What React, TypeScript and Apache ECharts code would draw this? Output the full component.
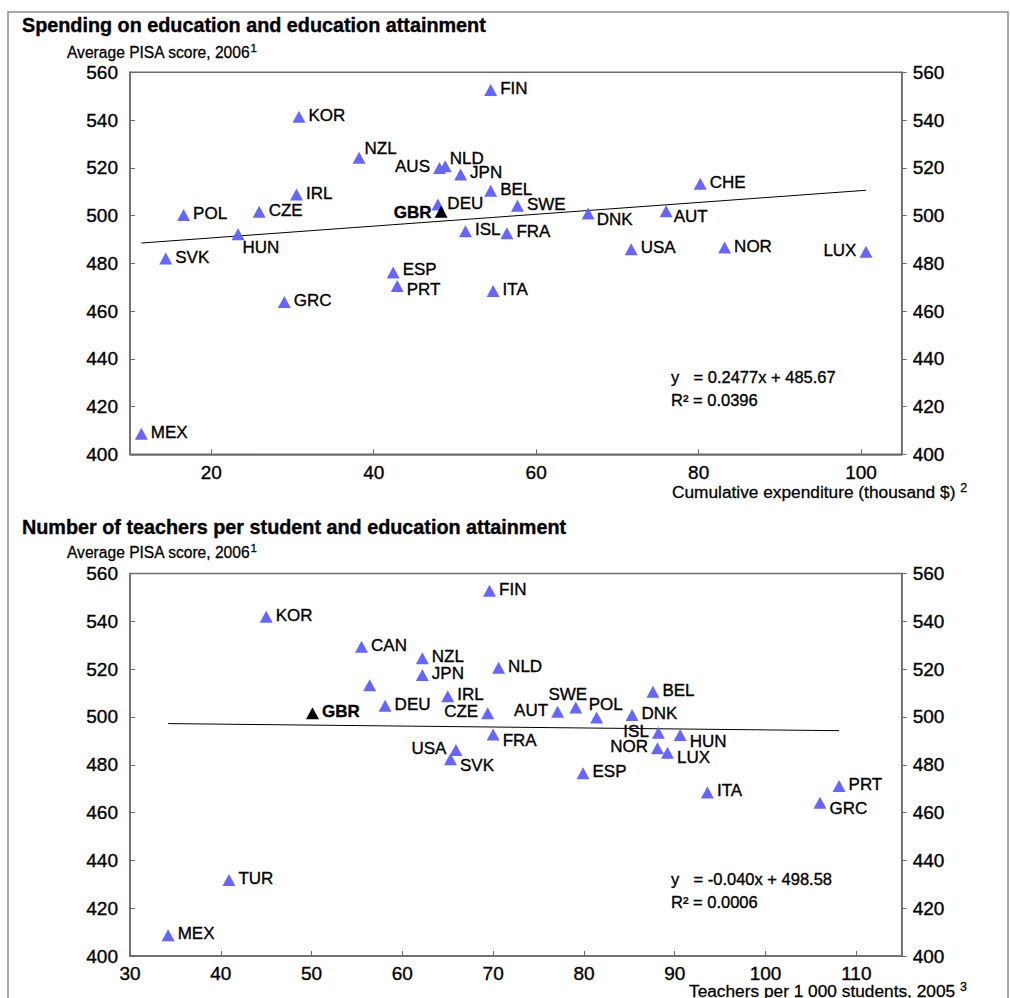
import React, { useEffect, useRef } from "react";
import * as echarts from "echarts";

// ---------- DATA ----------
// Panel 1: cumulative expenditure (thousand $) vs average PISA score 2006
const topCountries = ["FIN", "KOR", "NZL", "AUS", "NLD", "JPN", "BEL", "SWE", "DEU", "IRL", "POL", "CZE", "HUN", "SVK", "ISL", "FRA", "ESP", "PRT", "GRC", "ITA", "CHE", "DNK", "AUT", "USA", "NOR", "LUX", "MEX"];
const topSpending = [54.4, 30.8, 38.2, 48.1, 48.8, 50.7, 54.4, 57.7, 47.9, 30.5, 16.6, 25.9, 23.3, 14.4, 51.3, 56.4, 42.4, 42.9, 29.0, 54.7, 80.2, 66.4, 76.0, 71.7, 83.2, 100.6, 11.4];
const topPisa = [552.6, 541.4, 524.2, 519.9, 520.7, 517.2, 510.4, 504.1, 504.6, 508.8, 500.2, 501.6, 492.2, 482.0, 493.4, 492.6, 476.1, 470.5, 463.8, 468.4, 513.3, 500.9, 501.8, 485.9, 486.6, 484.8, 408.6];
const topHighlightName = ["GBR"];
const topHighlightSpending = [48.3];
const topHighlightPisa = [501.6];
const topSlope = 0.2477;
const topIntercept = 485.67;
const topR2 = "0.0396";

// Panel 2: teachers per 1 000 students (2005) vs average PISA score 2006
const botCountries = ["FIN", "KOR", "CAN", "NZL", "JPN", "CHE", "IRL", "DEU", "CZE", "NLD", "FRA", "USA", "SVK", "AUT", "SWE", "POL", "DNK", "BEL", "ISL", "HUN", "NOR", "LUX", "ESP", "ITA", "PRT", "GRC", "TUR", "MEX"];
const botTeachers = [69.6, 45.0, 55.5, 62.2, 62.2, 56.4, 65.0, 58.1, 69.4, 70.6, 70.0, 65.9, 65.3, 77.1, 79.1, 81.4, 85.3, 87.6, 88.2, 90.6, 88.1, 89.2, 79.9, 93.6, 108.1, 106.0, 40.9, 34.2];
const botPisa = [552.8, 541.9, 529.4, 524.5, 517.5, 513.3, 508.7, 504.7, 501.5, 520.6, 492.7, 486.2, 482.3, 502.2, 504.0, 499.8, 500.8, 510.5, 493.4, 492.4, 486.9, 485.0, 476.4, 468.4, 471.1, 464.1, 431.8, 408.7];
const botHighlightName = ["GBR"];
const botHighlightTeachers = [50.1];
const botHighlightPisa = [501.5];
const botSlope = -0.04;
const botIntercept = 498.58;
const botR2 = "0.0006";

const topXTicks = [20, 40, 60, 80, 100];
const botXTicks = [30, 40, 50, 60, 70, 80, 90, 100, 110];

// ---------- STYLE ----------
const FONT = '"Liberation Sans", Arial, Helvetica, sans-serif';
const BLUE = "#6666ff";
const AXIS = "#6b6b6b";
const HEAVY = 0.35;

type LP = { pos?: "left" | "right" | "top"; dx?: number; dy?: number; hide?: boolean; dist?: number };

const topPlacement: Record<string, LP> = {
  AUS: { pos: "left" },
  LUX: { pos: "left" },
  GBR: { pos: "left", dy: 1 },
  HUN: { dx: -5, dy: 13 },
  DNK: { dx: -1, dy: 6 },
  AUT: { dx: -2, dy: 5 },
  PRT: { dy: 4 },
  NLD: { dx: -5, dy: -8 },
  NZL: { dx: -4, dy: -9 },
  ESP: { dy: -3 },
};

const botPlacement: Record<string, LP> = {
  CHE: { hide: true },
  CZE: { pos: "left" },
  USA: { pos: "left" },
  AUT: { pos: "left" },
  ISL: { pos: "left" },
  NOR: { pos: "left" },
  FRA: { dy: 6 },
  SVK: { dy: 6 },
  HUN: { dy: 6 },
  LUX: { dy: 5 },
  GRC: { dy: 6 },
  SWE: { pos: "top", dx: -8, dy: 2, dist: 0 },
  POL: { pos: "top", dx: 9, dy: 2, dist: 0 },
};

function buildPoints(names: string[], xs: number[], ys: number[], placement: Record<string, LP>) {
  return names.map((n, i) => {
    const p = placement[n] || {};
    return {
      name: n,
      value: [xs[i], ys[i]],
      label: {
        show: !p.hide,
        position: p.pos || "right",
        distance: p.dist ?? 3,
        offset: [p.dx ?? 0, p.dy ?? -1.5],
      },
    };
  });
}

function trend(xs: number[], slope: number, intercept: number) {
  const lo = Math.min(...xs);
  const hi = Math.max(...xs);
  return [
    [lo, slope * lo + intercept],
    [hi, slope * hi + intercept],
  ];
}

const labelStyle = {
  fontFamily: FONT,
  fontSize: 17,
  color: "#000",
  formatter: "{b}",
  textBorderColor: "#000",
  textBorderWidth: HEAVY,
};

function xAxis(grid: number, min: number, max: number, ticks: number[], margin: number) {
  return {
    gridIndex: grid,
    type: "value",
    min,
    max,
    axisLine: { show: true, onZero: false, lineStyle: { color: AXIS, width: 1.5 } },
    axisTick: { show: true, inside: true, length: 5, customValues: ticks, lineStyle: { color: AXIS, width: 1 } },
    axisLabel: {
      customValues: ticks,
      fontFamily: FONT,
      fontSize: 19,
      color: "#000",
      margin,
      textBorderColor: "#000",
      textBorderWidth: HEAVY,
    },
    splitLine: { show: false },
  };
}

function yAxis(grid: number, side: "left" | "right") {
  return {
    gridIndex: grid,
    type: "value",
    position: side,
    min: 400,
    max: 560,
    interval: 20,
    axisLine: { show: true, onZero: false, lineStyle: { color: AXIS, width: 1.5 } },
    axisTick: { show: true, inside: side === "left", length: 5, lineStyle: { color: AXIS, width: 1 } },
    axisLabel: {
      fontFamily: FONT,
      fontSize: 19,
      color: "#000",
      margin: side === "left" ? 12 : 11,
      textBorderColor: "#000",
      textBorderWidth: HEAVY,
    },
    splitLine: { show: false },
  };
}

function subtitle(y: number) {
  return {
    type: "text",
    x: 67,
    y,
    style: {
      text: "Average PISA score, 2006{s|1}",
      fontFamily: FONT,
      fontSize: 15.6,
      lineHeight: 20,
      fill: "#000",
      stroke: "#000",
      lineWidth: HEAVY * 0.8,
      verticalAlign: "middle",
      rich: { s: { fontFamily: FONT, fontSize: 11.5, lineHeight: 12, verticalAlign: "top", fill: "#000" } },
    },
  };
}

function title(y: number, text: string) {
  return {
    type: "text",
    x: 22,
    y,
    style: {
      text,
      fontFamily: FONT,
      fontSize: 19.8,
      fontWeight: "bold",
      fill: "#000",
      stroke: "#000",
      lineWidth: HEAVY,
      verticalAlign: "middle",
    },
  };
}

function axisName(x: number, y: number, text: string, sup: string) {
  return {
    type: "text",
    x,
    y,
    style: {
      text: text + " {s|" + sup + "}",
      fontFamily: FONT,
      fontSize: 17.3,
      lineHeight: 22,
      fill: "#000",
      stroke: "#000",
      lineWidth: HEAVY * 0.8,
      verticalAlign: "middle",
      rich: { s: { fontFamily: FONT, fontSize: 12.5, lineHeight: 13, verticalAlign: "top", fill: "#000" } },
    },
  };
}

function equation(y: number, slope: number, intercept: number, r2: string) {
  const s = slope.toFixed(slope >= 0 ? 4 : 3);
  return [
    {
      type: "text",
      x: 671,
      y,
      style: { text: "y", fontFamily: FONT, fontSize: 16.5, fill: "#000", stroke: "#000", lineWidth: HEAVY, verticalAlign: "middle" },
    },
    {
      type: "text",
      x: 693.5,
      y,
      style: {
        text: "= " + s + "x + " + intercept.toFixed(2),
        fontFamily: FONT,
        fontSize: 16.5,
        fill: "#000",
        stroke: "#000",
        lineWidth: HEAVY,
        verticalAlign: "middle",
      },
    },
    {
      type: "text",
      x: 671,
      y: y + 23,
      style: {
        text: "R\u00b2 = " + r2,
        fontFamily: FONT,
        fontSize: 16.5,
        fill: "#000",
        stroke: "#000",
        lineWidth: HEAVY,
        verticalAlign: "middle",
      },
    },
  ];
}

export default function App() {
  const ref = useRef<HTMLDivElement>(null);
  useEffect(() => {
    if (!ref.current) return;
    const chart = echarts.init(ref.current, undefined, { renderer: "svg" });
    const option: any = {
      animation: false,
      textStyle: { fontFamily: FONT },
      grid: [
        { left: 130, top: 72.3, width: 771.7, height: 382, show: true, borderColor: AXIS, borderWidth: 1.5 },
        { left: 130, top: 573.5, width: 771.7, height: 382.5, show: true, borderColor: AXIS, borderWidth: 1.5 },
      ],
      xAxis: [xAxis(0, 10, 105, topXTicks, 8.5), xAxis(1, 30, 115, botXTicks, 7.5)],
      yAxis: [yAxis(0, "left"), yAxis(0, "right"), yAxis(1, "left"), yAxis(1, "right")],
      series: [
        {
          type: "line",
          xAxisIndex: 0,
          yAxisIndex: 0,
          data: trend(topSpending, topSlope, topIntercept),
          symbol: "none",
          lineStyle: { color: "#000", width: 1 },
          z: 1,
        },
        {
          type: "scatter",
          xAxisIndex: 0,
          yAxisIndex: 0,
          symbol: "triangle",
          symbolSize: [13, 12],
          itemStyle: { color: BLUE, opacity: 1 },
          label: { show: true, ...labelStyle },
          data: buildPoints(topCountries, topSpending, topPisa, topPlacement),
          z: 3,
        },
        {
          type: "scatter",
          xAxisIndex: 0,
          yAxisIndex: 0,
          symbol: "triangle",
          symbolSize: [13, 12],
          itemStyle: { color: "#000", opacity: 1 },
          label: { show: true, ...labelStyle, fontWeight: "bold" },
          data: buildPoints(topHighlightName, topHighlightSpending, topHighlightPisa, topPlacement),
          z: 4,
        },
        {
          type: "line",
          xAxisIndex: 1,
          yAxisIndex: 2,
          data: trend(botTeachers, botSlope, botIntercept),
          symbol: "none",
          lineStyle: { color: "#000", width: 1 },
          z: 1,
        },
        {
          type: "scatter",
          xAxisIndex: 1,
          yAxisIndex: 2,
          symbol: "triangle",
          symbolSize: [13, 12],
          itemStyle: { color: BLUE, opacity: 1 },
          label: { show: true, ...labelStyle },
          data: buildPoints(botCountries, botTeachers, botPisa, botPlacement),
          z: 3,
        },
        {
          type: "scatter",
          xAxisIndex: 1,
          yAxisIndex: 2,
          symbol: "triangle",
          symbolSize: [13, 12],
          itemStyle: { color: "#000", opacity: 1 },
          label: { show: true, ...labelStyle, fontWeight: "bold" },
          data: buildPoints(botHighlightName, botHighlightTeachers, botHighlightPisa, botPlacement),
          z: 4,
        },
      ],
      graphic: [
        {
          type: "rect",
          shape: { x: 8, y: 12, width: 1000, height: 1000 },
          style: { fill: "none", stroke: "#8a8a8a", lineWidth: 1.5 },
          silent: true,
        },
        title(25, "Spending on education and education attainment"),
        subtitle(52),
        axisName(672, 492, "Cumulative expenditure (thousand $)", "2"),
        ...equation(377, topSlope, topIntercept, topR2),
        title(527, "Number of teachers per student and education attainment"),
        subtitle(552),
        axisName(689, 991, "Teachers per 1 000 students, 2005", "3"),
        ...equation(879, botSlope, botIntercept, botR2),
      ],
    };
    chart.setOption(option);
    return () => chart.dispose();
  }, []);
  return (
    <div
      ref={ref}
      style={{ position: "fixed", left: 0, top: 0, width: 1010, height: 998, background: "#fff" }}
    />
  );
}
